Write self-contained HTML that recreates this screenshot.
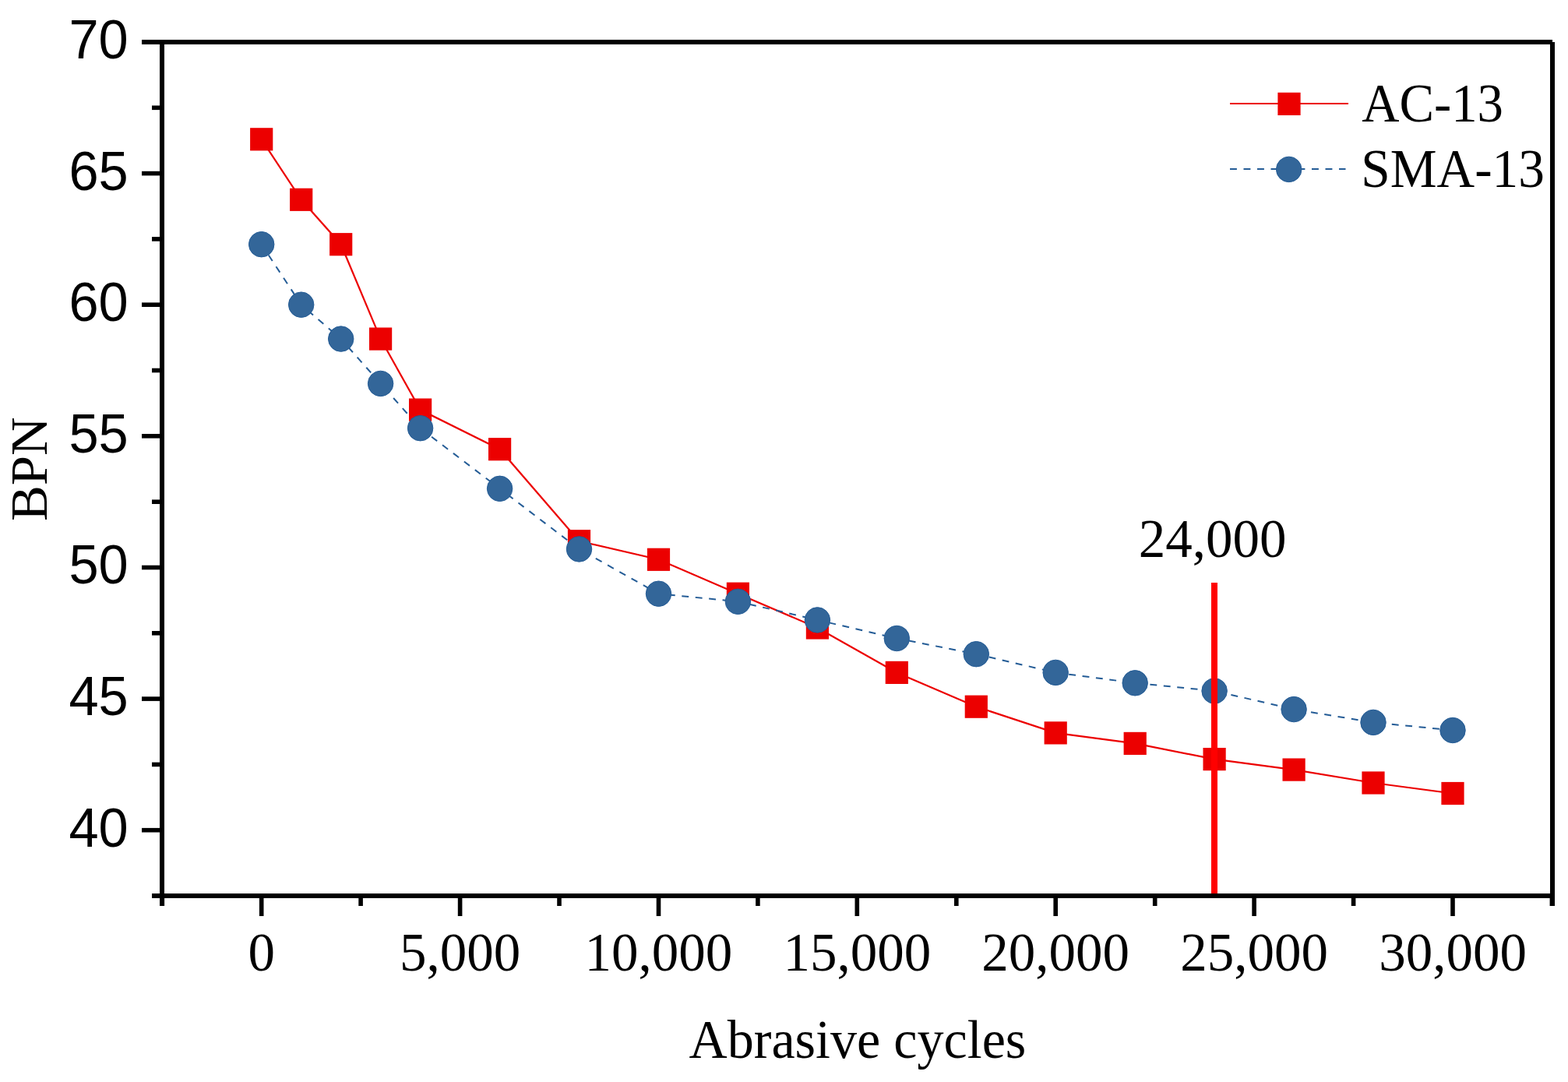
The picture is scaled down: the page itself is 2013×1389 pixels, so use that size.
<!DOCTYPE html>
<html><head><meta charset="utf-8"><title>BPN vs Abrasive cycles</title>
<style>html,body{margin:0;padding:0;background:#fff;}svg{display:block;}</style></head><body>
<svg width="2013" height="1389" viewBox="0 0 2013 1389">
<rect x="0" y="0" width="2013" height="1389" fill="#fff"/>
<polyline points="335.7,178.8 386.7,256.3 437.7,313.7 488.6,435.1 539.6,526.1 641.6,576.7 743.5,694.7 845.5,718.3 947.4,762.2 1049.4,806.0 1151.3,863.4 1253.3,907.2 1355.2,940.9 1457.2,954.4 1559.1,974.6 1661.1,988.1 1763.0,1005.0 1865.0,1018.5" fill="none" stroke="#ec0000" stroke-width="2.2" stroke-linejoin="miter"/>
<g fill="#ec0000"><rect x="321.1" y="164.2" width="29.2" height="29.2"/><rect x="372.1" y="241.7" width="29.2" height="29.2"/><rect x="423.1" y="299.1" width="29.2" height="29.2"/><rect x="474.0" y="420.5" width="29.2" height="29.2"/><rect x="525.0" y="511.5" width="29.2" height="29.2"/><rect x="627.0" y="562.1" width="29.2" height="29.2"/><rect x="728.9" y="680.1" width="29.2" height="29.2"/><rect x="830.9" y="703.7" width="29.2" height="29.2"/><rect x="932.8" y="747.6" width="29.2" height="29.2"/><rect x="1034.8" y="791.4" width="29.2" height="29.2"/><rect x="1136.7" y="848.8" width="29.2" height="29.2"/><rect x="1238.7" y="892.6" width="29.2" height="29.2"/><rect x="1340.6" y="926.3" width="29.2" height="29.2"/><rect x="1442.6" y="939.8" width="29.2" height="29.2"/><rect x="1544.5" y="960.0" width="29.2" height="29.2"/><rect x="1646.5" y="973.5" width="29.2" height="29.2"/><rect x="1748.4" y="990.4" width="29.2" height="29.2"/><rect x="1850.4" y="1003.9" width="29.2" height="29.2"/></g>
<polyline points="335.7,313.7 386.7,391.2 437.7,435.1 488.6,492.4 539.6,549.7 641.6,627.3 743.5,704.9 845.5,762.2 947.4,772.3 1049.4,795.9 1151.3,819.5 1253.3,839.7 1355.2,863.4 1457.2,876.8 1559.1,887.0 1661.1,910.6 1763.0,927.4 1865.0,937.5" fill="none" stroke="#245c96" stroke-width="2.0" stroke-dasharray="8.9 8.6" stroke-dashoffset="0.9"/>
<g fill="#336699" stroke="#245c96" stroke-width="1"><circle cx="335.7" cy="313.7" r="16.25"/><circle cx="386.7" cy="391.2" r="16.25"/><circle cx="437.7" cy="435.1" r="16.25"/><circle cx="488.6" cy="492.4" r="16.25"/><circle cx="539.6" cy="549.7" r="16.25"/><circle cx="641.6" cy="627.3" r="16.25"/><circle cx="743.5" cy="704.9" r="16.25"/><circle cx="845.5" cy="762.2" r="16.25"/><circle cx="947.4" cy="772.3" r="16.25"/><circle cx="1049.4" cy="795.9" r="16.25"/><circle cx="1151.3" cy="819.5" r="16.25"/><circle cx="1253.3" cy="839.7" r="16.25"/><circle cx="1355.2" cy="863.4" r="16.25"/><circle cx="1457.2" cy="876.8" r="16.25"/><circle cx="1559.1" cy="887.0" r="16.25"/><circle cx="1661.1" cy="910.6" r="16.25"/><circle cx="1763.0" cy="927.4" r="16.25"/><circle cx="1865.0" cy="937.5" r="16.25"/></g>
<rect x="1555" y="748" width="8" height="400" fill="#ff0000"/>
<g stroke="#000" fill="none" stroke-linecap="butt">
<line x1="182" y1="54" x2="1993" y2="54" stroke-width="6.0"/><line x1="208" y1="51.1" x2="208" y2="1163" stroke-width="6.0"/><line x1="1993" y1="54" x2="1993" y2="1163" stroke-width="6.0"/><line x1="195" y1="1150" x2="1995.9" y2="1150" stroke-width="6.0"/>
<line x1="182" y1="54.0" x2="208" y2="54.0" stroke-width="5.6"/><line x1="182" y1="222.6" x2="208" y2="222.6" stroke-width="5.6"/><line x1="182" y1="391.2" x2="208" y2="391.2" stroke-width="5.6"/><line x1="182" y1="559.8" x2="208" y2="559.8" stroke-width="5.6"/><line x1="182" y1="728.5" x2="208" y2="728.5" stroke-width="5.6"/><line x1="182" y1="897.1" x2="208" y2="897.1" stroke-width="5.6"/><line x1="182" y1="1065.7" x2="208" y2="1065.7" stroke-width="5.6"/><line x1="195" y1="138.3" x2="208" y2="138.3" stroke-width="5.6"/><line x1="195" y1="306.9" x2="208" y2="306.9" stroke-width="5.6"/><line x1="195" y1="475.5" x2="208" y2="475.5" stroke-width="5.6"/><line x1="195" y1="644.2" x2="208" y2="644.2" stroke-width="5.6"/><line x1="195" y1="812.8" x2="208" y2="812.8" stroke-width="5.6"/><line x1="195" y1="981.4" x2="208" y2="981.4" stroke-width="5.6"/><line x1="195" y1="1150.0" x2="208" y2="1150.0" stroke-width="5.6"/>
<line x1="335.7" y1="1150" x2="335.7" y2="1176" stroke-width="5.6"/><line x1="590.6" y1="1150" x2="590.6" y2="1176" stroke-width="5.6"/><line x1="845.5" y1="1150" x2="845.5" y2="1176" stroke-width="5.6"/><line x1="1100.3" y1="1150" x2="1100.3" y2="1176" stroke-width="5.6"/><line x1="1355.2" y1="1150" x2="1355.2" y2="1176" stroke-width="5.6"/><line x1="1610.1" y1="1150" x2="1610.1" y2="1176" stroke-width="5.6"/><line x1="1865.0" y1="1150" x2="1865.0" y2="1176" stroke-width="5.6"/><line x1="208.3" y1="1150" x2="208.3" y2="1163" stroke-width="5.6"/><line x1="463.1" y1="1150" x2="463.1" y2="1163" stroke-width="5.6"/><line x1="718.0" y1="1150" x2="718.0" y2="1163" stroke-width="5.6"/><line x1="972.9" y1="1150" x2="972.9" y2="1163" stroke-width="5.6"/><line x1="1227.8" y1="1150" x2="1227.8" y2="1163" stroke-width="5.6"/><line x1="1482.7" y1="1150" x2="1482.7" y2="1163" stroke-width="5.6"/><line x1="1737.6" y1="1150" x2="1737.6" y2="1163" stroke-width="5.6"/><line x1="1992.4" y1="1150" x2="1992.4" y2="1163" stroke-width="5.6"/>
</g>
<text x="88.40" y="74.90" font-family='"Liberation Sans", Arial, sans-serif' font-size="70.0" textLength="76.30" lengthAdjust="spacingAndGlyphs">70</text>
<text x="88.40" y="243.52" font-family='"Liberation Sans", Arial, sans-serif' font-size="70.0" textLength="76.30" lengthAdjust="spacingAndGlyphs">65</text>
<text x="88.40" y="412.13" font-family='"Liberation Sans", Arial, sans-serif' font-size="70.0" textLength="76.30" lengthAdjust="spacingAndGlyphs">60</text>
<text x="88.40" y="580.75" font-family='"Liberation Sans", Arial, sans-serif' font-size="70.0" textLength="76.30" lengthAdjust="spacingAndGlyphs">55</text>
<text x="88.40" y="749.36" font-family='"Liberation Sans", Arial, sans-serif' font-size="70.0" textLength="76.30" lengthAdjust="spacingAndGlyphs">50</text>
<text x="88.40" y="917.97" font-family='"Liberation Sans", Arial, sans-serif' font-size="70.0" textLength="76.30" lengthAdjust="spacingAndGlyphs">45</text>
<text x="88.40" y="1086.59" font-family='"Liberation Sans", Arial, sans-serif' font-size="70.0" textLength="76.30" lengthAdjust="spacingAndGlyphs">40</text>
<text x="335.70" y="1246" text-anchor="middle" font-family='"Liberation Serif", "Times New Roman", serif' font-size="69.0">0</text>
<text x="590.58" y="1246" text-anchor="middle" font-family='"Liberation Serif", "Times New Roman", serif' font-size="69.0">5,000</text>
<text x="845.47" y="1246" text-anchor="middle" font-family='"Liberation Serif", "Times New Roman", serif' font-size="69.0">10,000</text>
<text x="1100.35" y="1246" text-anchor="middle" font-family='"Liberation Serif", "Times New Roman", serif' font-size="69.0">15,000</text>
<text x="1355.23" y="1246" text-anchor="middle" font-family='"Liberation Serif", "Times New Roman", serif' font-size="69.0">20,000</text>
<text x="1610.12" y="1246" text-anchor="middle" font-family='"Liberation Serif", "Times New Roman", serif' font-size="69.0">25,000</text>
<text x="1865.00" y="1246" text-anchor="middle" font-family='"Liberation Serif", "Times New Roman", serif' font-size="69.0">30,000</text>
<text x="1461.76" y="715.00" font-family='"Liberation Serif", "Times New Roman", serif' font-size="69.0" textLength="189.83" lengthAdjust="spacingAndGlyphs">24,000</text>
<text x="1748.23" y="155.90" font-family='"Liberation Serif", "Times New Roman", serif' font-size="69.0" textLength="181.75" lengthAdjust="spacingAndGlyphs">AC-13</text>
<text x="1747.29" y="239.60" font-family='"Liberation Serif", "Times New Roman", serif' font-size="69.0" textLength="235.67" lengthAdjust="spacingAndGlyphs">SMA-13</text>
<text x="884.52" y="1358.40" font-family='"Liberation Serif", "Times New Roman", serif' font-size="69.0" textLength="432.82" lengthAdjust="spacingAndGlyphs">Abrasive cycles</text>
<text transform="translate(60,667) rotate(-90)" x="-1.99" y="0" font-family='"Liberation Serif", "Times New Roman", serif' font-size="68.2" textLength="133.66" lengthAdjust="spacingAndGlyphs">BPN</text>
<line x1="1579" y1="133" x2="1731" y2="133" stroke="#ec0000" stroke-width="2.1"/>
<rect x="1640.4" y="118.8" width="29.2" height="29.2" fill="#ec0000"/>
<line x1="1579" y1="217" x2="1727.5" y2="217" stroke="#245c96" stroke-width="2.0" stroke-dasharray="8.9 8.6"/>
<circle cx="1654.7" cy="217.4" r="16.25" fill="#336699" stroke="#245c96" stroke-width="1"/>
</svg>
</body></html>
